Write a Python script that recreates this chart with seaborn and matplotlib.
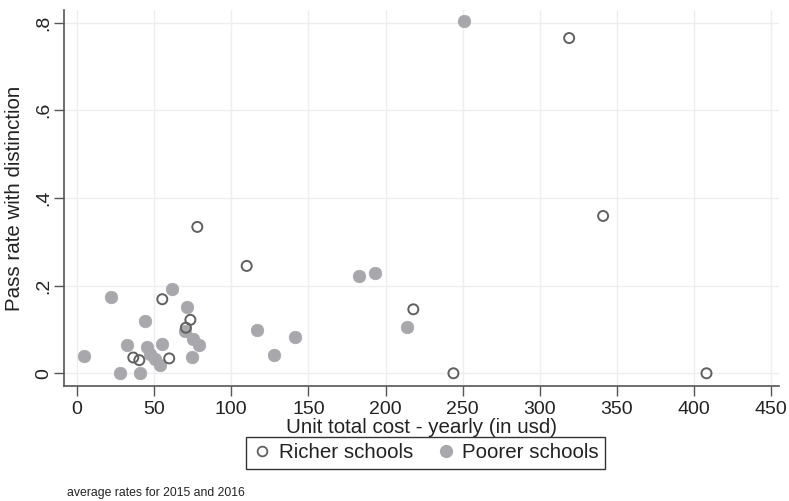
import numpy as np
import pandas as pd
import matplotlib
matplotlib.use("Agg")
import matplotlib.pyplot as plt
import seaborn as sns
from matplotlib.lines import Line2D

# Values
richer_cost = [319, 341, 78, 110, 218, 244, 408, 55.3, 73.5, 70.6, 36.5, 40.4, 59.8]
richer_rate = [0.765, 0.359, 0.334, 0.245, 0.146, 0.0, 0.0, 0.169, 0.122, 0.104, 0.036, 0.030, 0.034]

poorer_cost = [251, 183, 193, 214, 116.5, 128, 141, 21.8, 61.4, 71.6, 44.3, 69.8,
               75.5, 79.0, 32.4, 54.9, 45.5, 47.3, 50.5, 53.8, 4.8, 27.6, 40.8, 74.6]
poorer_rate = [0.805, 0.222, 0.228, 0.106, 0.099, 0.042, 0.083, 0.174, 0.192, 0.151, 0.120, 0.096,
               0.078, 0.064, 0.064, 0.067, 0.059, 0.045, 0.032, 0.020, 0.040, 0.0, 0.0, 0.037]

x_ticks = [0, 50, 100, 150, 200, 250, 300, 350, 400, 450]
y_ticks = [0, 0.2, 0.4, 0.6, 0.8]
y_tick_labels = ['0', '.2', '.4', '.6', '.8']

richer = pd.DataFrame({'cost': richer_cost, 'rate': richer_rate})
poorer = pd.DataFrame({'cost': poorer_cost, 'rate': poorer_rate})

sns.set_style("white")
plt.rcParams['font.family'] = ['Liberation Sans', 'DejaVu Sans']

fill_col = '#a8a8ac'
edge_col = '#606060'
text_col = '#222222'

fig = plt.figure(figsize=(7.89, 5.01), dpi=100)
ax = fig.add_axes([64 / 789, 1 - 386 / 501, 715 / 789, 376 / 501])

sns.scatterplot(data=poorer, x='cost', y='rate', ax=ax, s=82, color=fill_col,
                edgecolor=fill_col, linewidth=0.5, zorder=3)
sns.scatterplot(data=richer, x='cost', y='rate', ax=ax, s=52, facecolor='none',
                edgecolor=edge_col, linewidth=1.4, zorder=4)

ax.set_xlim(-8.4, 455)
ax.set_ylim(-0.029, 0.829)
ax.set_xticks(x_ticks)
ax.set_yticks(y_ticks)
ax.set_yticklabels(y_tick_labels, rotation=90, va='center')
ax.grid(True, color='#eeeeee', linewidth=1.0)
ax.set_axisbelow(True)

for side in ['top', 'right']:
    ax.spines[side].set_visible(False)
for side in ['left', 'bottom']:
    ax.spines[side].set_color('#555555')
    ax.spines[side].set_linewidth(1.2)
ax.tick_params(direction='out', length=7, width=1, color='#555555',
               labelsize=14, labelcolor=text_col)
ax.tick_params(axis='x', pad=4, bottom=True)
ax.tick_params(axis='y', pad=1.5, left=True)

ax.set_xlabel('Unit total cost - yearly (in usd)', fontsize=14.8, color=text_col, labelpad=0)
ax.set_ylabel('Pass rate with distinction', fontsize=14.8, color=text_col, labelpad=8)

handles = [
    Line2D([], [], marker='o', linestyle='none', markersize=7, markerfacecolor='none',
           markeredgecolor=edge_col, markeredgewidth=1.3),
    Line2D([], [], marker='o', linestyle='none', markersize=8.5, markerfacecolor=fill_col,
           markeredgecolor=fill_col),
]
leg = fig.legend(handles, ['Richer schools', 'Poorer schools'], loc='center',
                 bbox_to_anchor=(425.5 / 789, 1 - 453 / 501), ncol=2, frameon=True,
                 fancybox=False, fontsize=14.8, handletextpad=0.3, columnspacing=1.1,
                 borderpad=0.3, borderaxespad=0, handlelength=1.0, labelcolor=text_col)
leg.get_frame().set_edgecolor('black')
leg.get_frame().set_linewidth(1.0)

fig.text(67 / 789, 1 - 493 / 501, 'average rates for 2015 and 2016', fontsize=8.8,
         color=text_col, va='center', ha='left')

fig.savefig('out.png', dpi=100)
